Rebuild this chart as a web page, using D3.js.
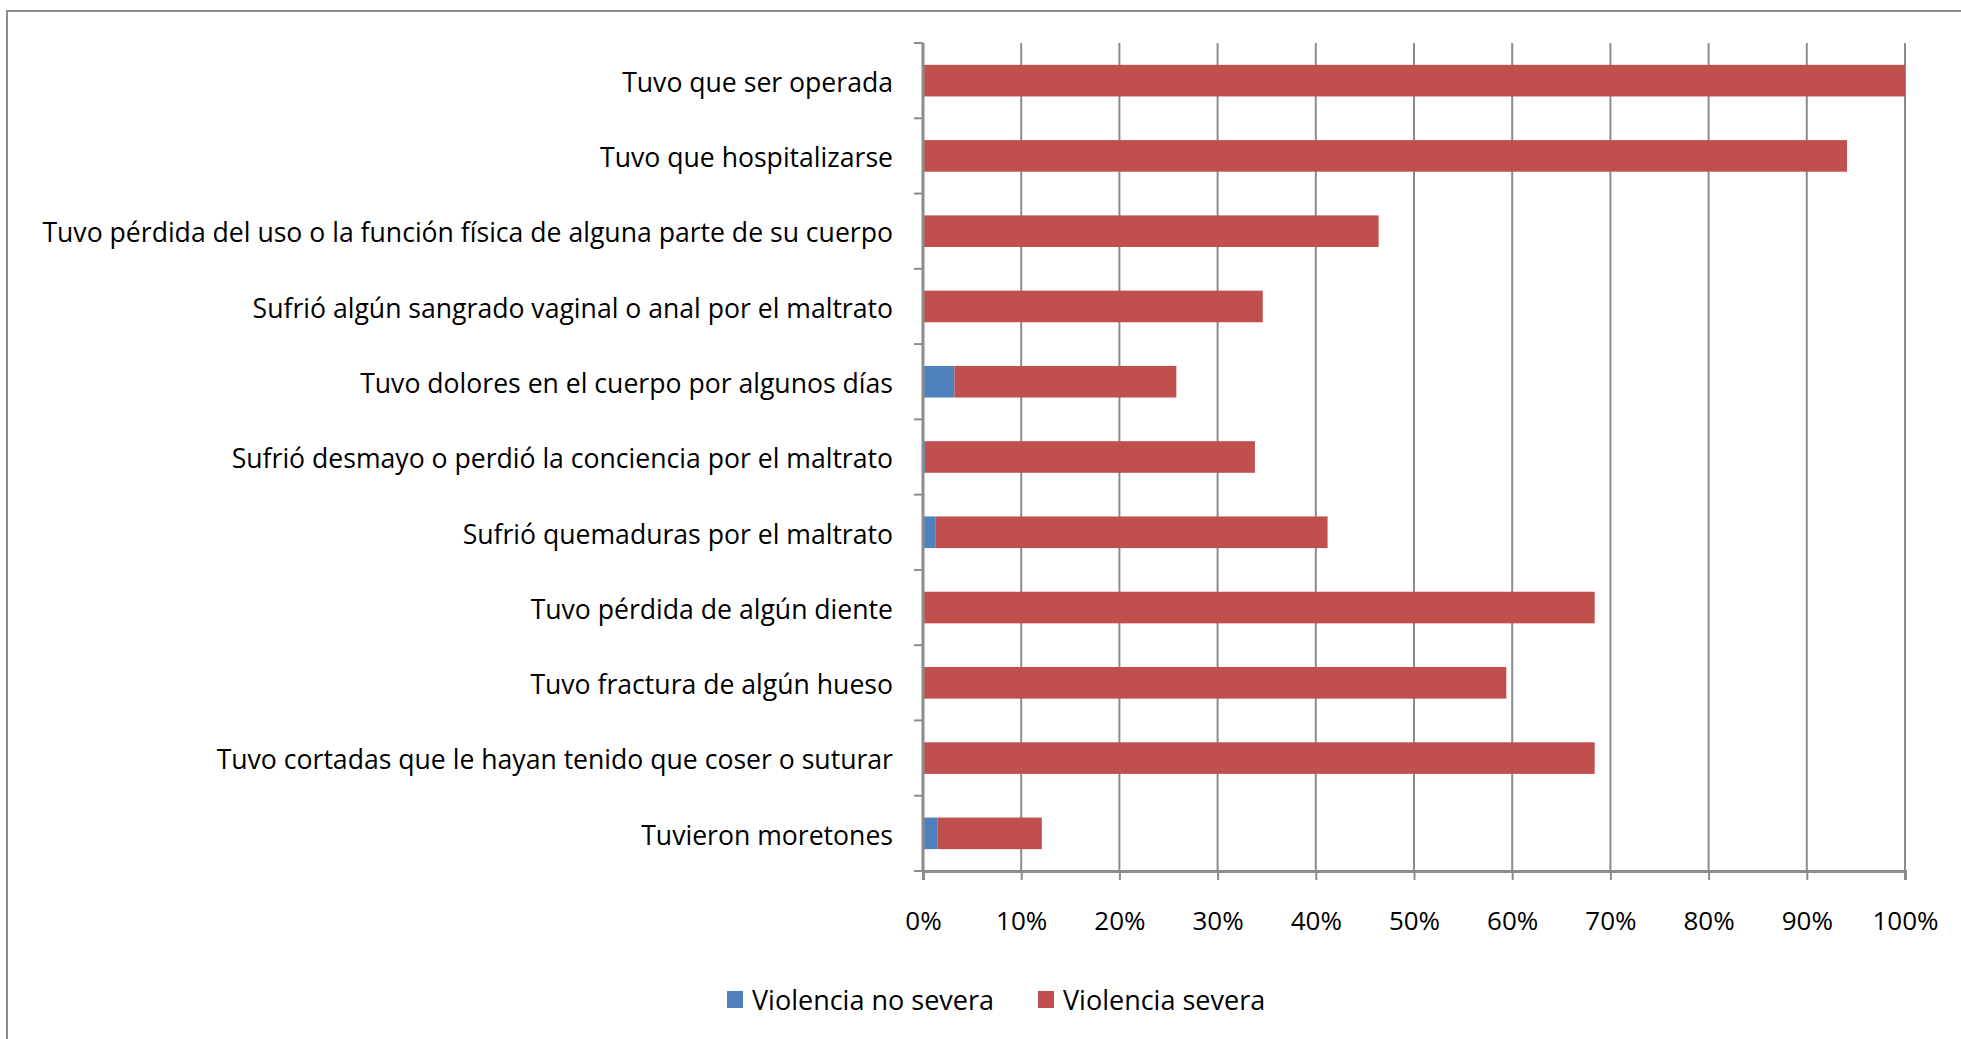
<!DOCTYPE html>
<html>
<head>
<meta charset="utf-8">
<script src="https://cdn.jsdelivr.net/npm/d3@7"></script>
<style>
  body { margin: 0; background: #fff; }
  svg { display: block; }
  text { font-family: "Open Sans", sans-serif; fill: #000; }
</style>
</head>
<body>
<div id="chart"></div>
<script>
// categories, top to bottom
var categories = [
  'Tuvo que ser operada',
  'Tuvo que hospitalizarse',
  'Tuvo pérdida del uso o la función física de alguna parte de su cuerpo',
  'Sufrió algún sangrado vaginal o anal por el maltrato',
  'Tuvo dolores en el cuerpo por algunos días',
  'Sufrió desmayo o perdió la conciencia por el maltrato',
  'Sufrió quemaduras por el maltrato',
  'Tuvo pérdida de algún diente',
  'Tuvo fractura de algún hueso',
  'Tuvo cortadas que le hayan tenido que coser o suturar',
  'Tuvieron moretones'
];
var noSevera = [0, 0, 0, 0, 3.2, 0.2, 1.3, 0, 0, 0, 1.5];
var severa = [100, 94.1, 46.4, 34.6, 22.6, 33.6, 39.9, 68.4, 59.4, 68.4, 10.6];
var seriesNames = ['Violencia no severa', 'Violencia severa'];
var colors = ['#4F81BD', '#C0504D'];
var xTicks = [0, 10, 20, 30, 40, 50, 60, 70, 80, 90, 100];

var width = 1961, height = 1039;
var plot = { left: 923, right: 1905, top: 43, bottom: 871 };

var svg = d3.select('#chart').append('svg')
  .attr('width', width).attr('height', height);

// chart area border
svg.append('rect')
  .attr('x', 7).attr('y', 11)
  .attr('width', 2100).attr('height', 1200)
  .attr('fill', '#fff').attr('stroke', '#8c8c8c').attr('stroke-width', 2);

var x = d3.scaleLinear().domain([0, 100]).range([plot.left, plot.right]);
var y = d3.scaleBand().domain(categories).range([plot.top, plot.bottom]).paddingInner(0.58).paddingOuter(0.29);

// gridlines
svg.append('g').selectAll('line').data(xTicks.slice(1)).enter().append('line')
  .attr('x1', d => x(d)).attr('x2', d => x(d))
  .attr('y1', plot.top).attr('y2', plot.bottom)
  .attr('stroke', '#8c8c8c').attr('stroke-width', 2);

// stacked bars
var stackData = categories.map((c, i) => ({ cat: c, a: noSevera[i], b: severa[i] }));
var stack = d3.stack().keys(['a', 'b'])(stackData);

svg.append('g').selectAll('g').data(stack).enter().append('g')
  .attr('fill', (d, i) => colors[i])
  .selectAll('rect').data(d => d).enter().append('rect')
  .attr('x', d => x(d[0]))
  .attr('width', d => x(d[1]) - x(d[0]))
  .attr('y', d => y(d.data.cat))
  .attr('height', y.bandwidth());

// x axis
var xAxis = d3.axisBottom(x).tickValues(xTicks).tickFormat(d => d + '%').tickSize(9).tickPadding(32);
var gx = svg.append('g').attr('transform', 'translate(0,' + plot.bottom + ')').call(xAxis);
gx.select('.domain').attr('stroke', '#8c8c8c').attr('stroke-width', 3);
gx.selectAll('.tick line').attr('stroke', '#8c8c8c').attr('stroke-width', 2);
gx.selectAll('.tick text').attr('font-size', 26).attr('font-family', '"Open Sans", sans-serif').attr('fill', '#000');

// y axis: ticks at band boundaries, labels at band centres
var bounds = d3.range(categories.length + 1).map(i => plot.top + i * (plot.bottom - plot.top) / categories.length);
var gy = svg.append('g');
gy.append('line')
  .attr('x1', plot.left).attr('x2', plot.left)
  .attr('y1', plot.top).attr('y2', plot.bottom)
  .attr('stroke', '#8c8c8c').attr('stroke-width', 3);
gy.selectAll('line.tk').data(bounds).enter().append('line').attr('class', 'tk')
  .attr('x1', plot.left - 9).attr('x2', plot.left)
  .attr('y1', d => d).attr('y2', d => d)
  .attr('stroke', '#8c8c8c').attr('stroke-width', 2);
gy.selectAll('text').data(categories).enter().append('text')
  .attr('x', 893)
  .attr('y', d => y(d) + y.bandwidth() / 2 + 2)
  .attr('dy', '0.35em')
  .attr('text-anchor', 'end')
  .attr('font-size', 26.6)
  .text(d => d);

// legend
var legendX = [727, 1038];
var lg = svg.append('g').selectAll('g').data(seriesNames).enter().append('g')
  .attr('transform', (d, i) => 'translate(' + legendX[i] + ',991)');
lg.append('rect').attr('width', 16).attr('height', 17).attr('fill', (d, i) => colors[i]);
lg.append('text').attr('x', 25).attr('y', 19)
  .attr('font-size', 27).text(d => d);
</script>
</body>
</html>
